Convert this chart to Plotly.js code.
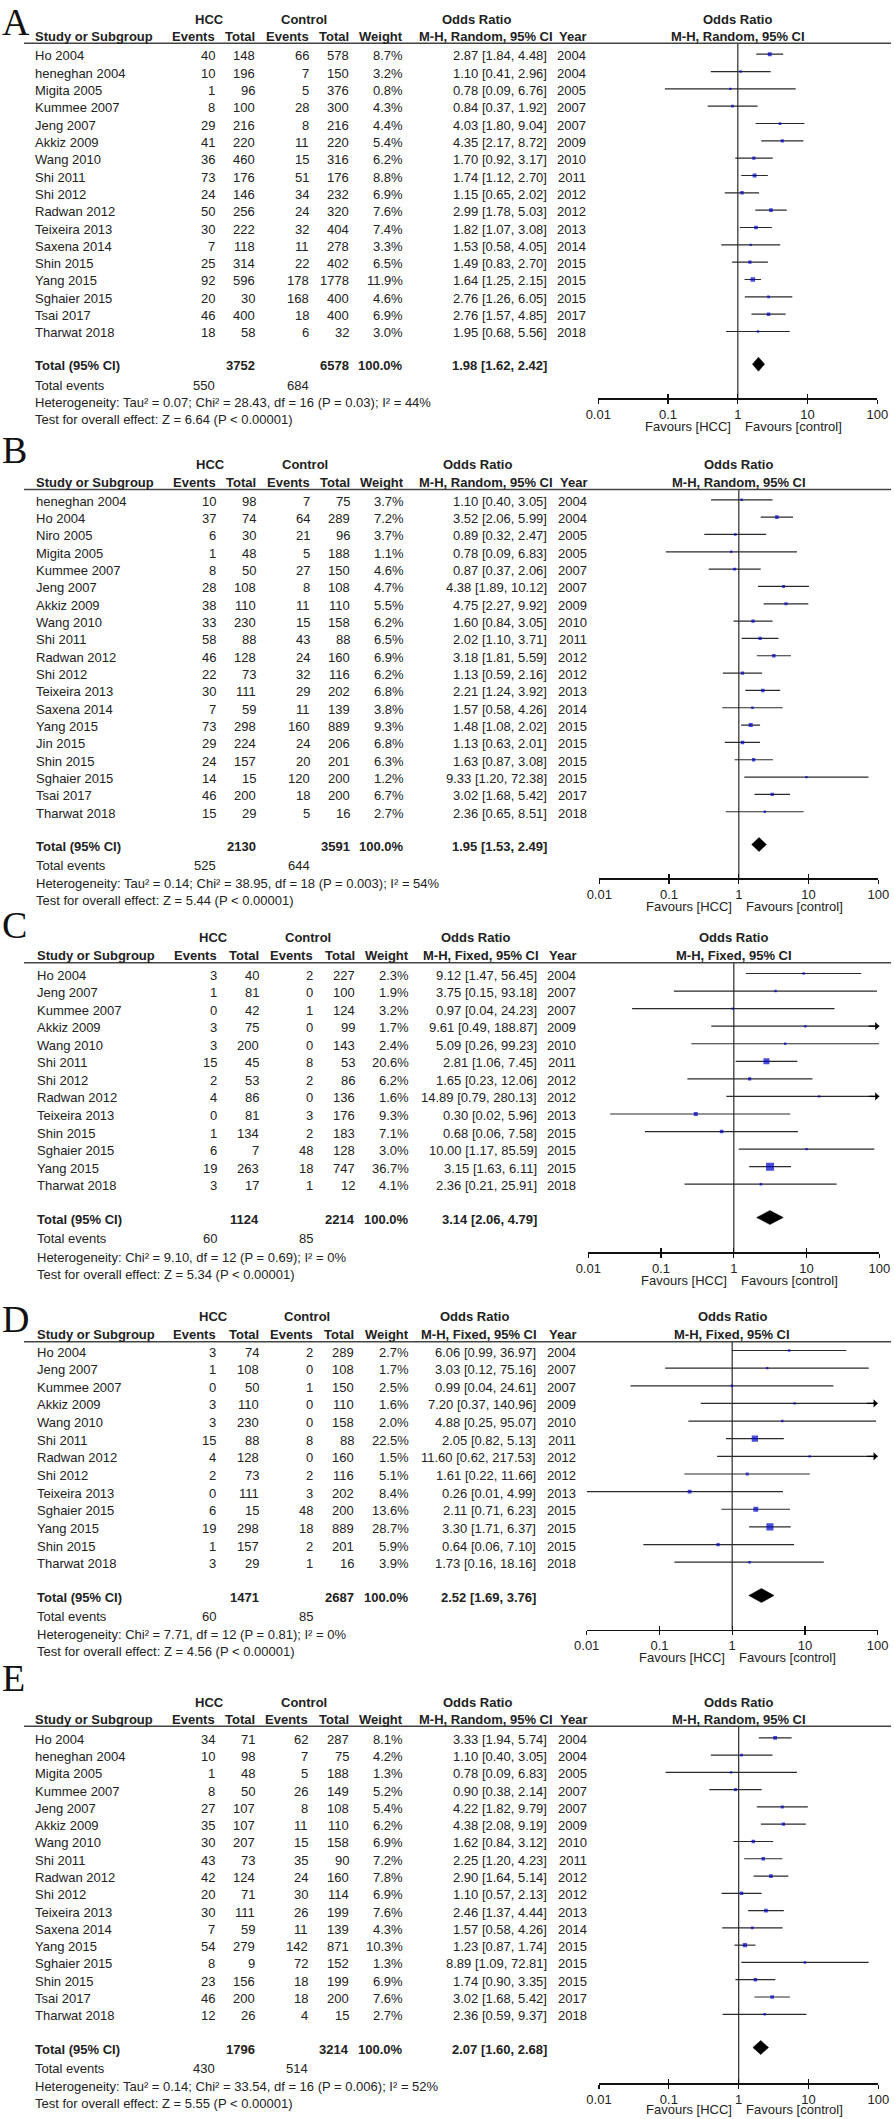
<!DOCTYPE html>
<html><head><meta charset="utf-8">
<script src="https://cdn.plot.ly/plotly-3.0.1.min.js"></script>
<style>html,body{margin:0;padding:0;background:#fff}#chart{width:894px;height:2119px}</style>
</head><body><div id="chart"></div>
<script>
// ================= DATA =================
const axisTickVals = [0.01, 0.1, 1, 10, 100];
const axisTickText = ["0.01", "0.1", "1", "10", "100"];
const nullValue = 1;
const favourLeft = "Favours [HCC]";
const favourRight = "Favours [control]";

// ---- Panel A ----
const studiesA = ["Ho 2004","heneghan 2004","Migita 2005","Kummee 2007","Jeng 2007","Akkiz 2009","Wang 2010","Shi 2011","Shi 2012","Radwan 2012","Teixeira 2013","Saxena 2014","Shin 2015","Yang 2015","Sghaier 2015","Tsai 2017","Tharwat 2018"];
const hccEventsA = [40,10,1,8,29,41,36,73,24,50,30,7,25,92,20,46,18];
const hccTotalA = [148,196,96,100,216,220,460,176,146,256,222,118,314,596,30,400,58];
const ctrlEventsA = [66,7,5,28,8,11,15,51,34,24,32,11,22,178,168,18,6];
const ctrlTotalA = [578,150,376,300,216,220,316,176,232,320,404,278,402,1778,400,400,32];
const weightA = [8.7,3.2,0.8,4.3,4.4,5.4,6.2,8.8,6.9,7.6,7.4,3.3,6.5,11.9,4.6,6.9,3.0];
const orA = [2.87,1.10,0.78,0.84,4.03,4.35,1.70,1.74,1.15,2.99,1.82,1.53,1.49,1.64,2.76,2.76,1.95];
const loA = [1.84,0.41,0.09,0.37,1.80,2.17,0.92,1.12,0.65,1.78,1.07,0.58,0.83,1.25,1.26,1.57,0.68];
const hiA = [4.48,2.96,6.76,1.92,9.04,8.72,3.17,2.70,2.02,5.03,3.08,4.05,2.70,2.15,6.05,4.85,5.56];
const yearA = [2004,2004,2005,2007,2007,2009,2010,2011,2012,2012,2013,2014,2015,2015,2015,2017,2018];
const totalA = {hccTotal:3752, ctrlTotal:6578, weight:"100.0%", or:1.98, lo:1.62, hi:2.42, hccEvents:550, ctrlEvents:684};
const hetA = "Heterogeneity: Tau² = 0.07; Chi² = 28.43, df = 16 (P = 0.03); I² = 44%";
const testA = "Test for overall effect: Z = 6.64 (P &lt; 0.00001)";
const methodA = "M-H, Random, 95% CI";

// ---- Panel B ----
const studiesB = ["heneghan 2004","Ho 2004","Niro 2005","Migita 2005","Kummee 2007","Jeng 2007","Akkiz 2009","Wang 2010","Shi 2011","Radwan 2012","Shi 2012","Teixeira 2013","Saxena 2014","Yang 2015","Jin 2015","Shin 2015","Sghaier 2015","Tsai 2017","Tharwat 2018"];
const hccEventsB = [10,37,6,1,8,28,38,33,58,46,22,30,7,73,29,24,14,46,15];
const hccTotalB = [98,74,30,48,50,108,110,230,88,128,73,111,59,298,224,157,15,200,29];
const ctrlEventsB = [7,64,21,5,27,8,11,15,43,24,32,29,11,160,24,20,120,18,5];
const ctrlTotalB = [75,289,96,188,150,108,110,158,88,160,116,202,139,889,206,201,200,200,16];
const weightB = [3.7,7.2,3.7,1.1,4.6,4.7,5.5,6.2,6.5,6.9,6.2,6.8,3.8,9.3,6.8,6.3,1.2,6.7,2.7];
const orB = [1.10,3.52,0.89,0.78,0.87,4.38,4.75,1.60,2.02,3.18,1.13,2.21,1.57,1.48,1.13,1.63,9.33,3.02,2.36];
const loB = [0.40,2.06,0.32,0.09,0.37,1.89,2.27,0.84,1.10,1.81,0.59,1.24,0.58,1.08,0.63,0.87,1.20,1.68,0.65];
const hiB = [3.05,5.99,2.47,6.83,2.06,10.12,9.92,3.05,3.71,5.59,2.16,3.92,4.26,2.02,2.01,3.08,72.38,5.42,8.51];
const yearB = [2004,2004,2005,2005,2007,2007,2009,2010,2011,2012,2012,2013,2014,2015,2015,2015,2015,2017,2018];
const totalB = {hccTotal:2130, ctrlTotal:3591, weight:"100.0%", or:1.95, lo:1.53, hi:2.49, hccEvents:525, ctrlEvents:644};
const hetB = "Heterogeneity: Tau² = 0.14; Chi² = 38.95, df = 18 (P = 0.003); I² = 54%";
const testB = "Test for overall effect: Z = 5.44 (P &lt; 0.00001)";
const methodB = "M-H, Random, 95% CI";

// ---- Panel C ----
const studiesC = ["Ho 2004","Jeng 2007","Kummee 2007","Akkiz 2009","Wang 2010","Shi 2011","Shi 2012","Radwan 2012","Teixeira 2013","Shin 2015","Sghaier 2015","Yang 2015","Tharwat 2018"];
const hccEventsC = [3,1,0,3,3,15,2,4,0,1,6,19,3];
const hccTotalC = [40,81,42,75,200,45,53,86,81,134,7,263,17];
const ctrlEventsC = [2,0,1,0,0,8,2,0,3,2,48,18,1];
const ctrlTotalC = [227,100,124,99,143,53,86,136,176,183,128,747,12];
const weightC = [2.3,1.9,3.2,1.7,2.4,20.6,6.2,1.6,9.3,7.1,3.0,36.7,4.1];
const orC = [9.12,3.75,0.97,9.61,5.09,2.81,1.65,14.89,0.30,0.68,10.00,3.15,2.36];
const loC = [1.47,0.15,0.04,0.49,0.26,1.06,0.23,0.79,0.02,0.06,1.17,1.63,0.21];
const hiC = [56.45,93.18,24.23,188.87,99.23,7.45,12.06,280.13,5.96,7.58,85.59,6.11,25.91];
const yearC = [2004,2007,2007,2009,2010,2011,2012,2012,2013,2015,2015,2015,2018];
const totalC = {hccTotal:1124, ctrlTotal:2214, weight:"100.0%", or:3.14, lo:2.06, hi:4.79, hccEvents:60, ctrlEvents:85};
const hetC = "Heterogeneity: Chi² = 9.10, df = 12 (P = 0.69); I² = 0%";
const testC = "Test for overall effect: Z = 5.34 (P &lt; 0.00001)";
const methodC = "M-H, Fixed, 95% CI";

// ---- Panel D ----
const studiesD = ["Ho 2004","Jeng 2007","Kummee 2007","Akkiz 2009","Wang 2010","Shi 2011","Radwan 2012","Shi 2012","Teixeira 2013","Sghaier 2015","Yang 2015","Shin 2015","Tharwat 2018"];
const hccEventsD = [3,1,0,3,3,15,4,2,0,6,19,1,3];
const hccTotalD = [74,108,50,110,230,88,128,73,111,15,298,157,29];
const ctrlEventsD = [2,0,1,0,0,8,0,2,3,48,18,2,1];
const ctrlTotalD = [289,108,150,110,158,88,160,116,202,200,889,201,16];
const weightD = [2.7,1.7,2.5,1.6,2.0,22.5,1.5,5.1,8.4,13.6,28.7,5.9,3.9];
const orD = [6.06,3.03,0.99,7.20,4.88,2.05,11.60,1.61,0.26,2.11,3.30,0.64,1.73];
const loD = [0.99,0.12,0.04,0.37,0.25,0.82,0.62,0.22,0.01,0.71,1.71,0.06,0.16];
const hiD = [36.97,75.16,24.61,140.96,95.07,5.13,217.53,11.66,4.99,6.23,6.37,7.10,18.16];
const yearD = [2004,2007,2007,2009,2010,2011,2012,2012,2013,2015,2015,2015,2018];
const totalD = {hccTotal:1471, ctrlTotal:2687, weight:"100.0%", or:2.52, lo:1.69, hi:3.76, hccEvents:60, ctrlEvents:85};
const hetD = "Heterogeneity: Chi² = 7.71, df = 12 (P = 0.81); I² = 0%";
const testD = "Test for overall effect: Z = 4.56 (P &lt; 0.00001)";
const methodD = "M-H, Fixed, 95% CI";

// ---- Panel E ----
const studiesE = ["Ho 2004","heneghan 2004","Migita 2005","Kummee 2007","Jeng 2007","Akkiz 2009","Wang 2010","Shi 2011","Radwan 2012","Shi 2012","Teixeira 2013","Saxena 2014","Yang 2015","Sghaier 2015","Shin 2015","Tsai 2017","Tharwat 2018"];
const hccEventsE = [34,10,1,8,27,35,30,43,42,20,30,7,54,8,23,46,12];
const hccTotalE = [71,98,48,50,107,107,207,73,124,71,111,59,279,9,156,200,26];
const ctrlEventsE = [62,7,5,26,8,11,15,35,24,30,26,11,142,72,18,18,4];
const ctrlTotalE = [287,75,188,149,108,110,158,90,160,114,199,139,871,152,199,200,15];
const weightE = [8.1,4.2,1.3,5.2,5.4,6.2,6.9,7.2,7.8,6.9,7.6,4.3,10.3,1.3,6.9,7.6,2.7];
const orE = [3.33,1.10,0.78,0.90,4.22,4.38,1.62,2.25,2.90,1.10,2.46,1.57,1.23,8.89,1.74,3.02,2.36];
const loE = [1.94,0.40,0.09,0.38,1.82,2.08,0.84,1.20,1.64,0.57,1.37,0.58,0.87,1.09,0.90,1.68,0.59];
const hiE = [5.74,3.05,6.83,2.14,9.79,9.19,3.12,4.23,5.14,2.13,4.44,4.26,1.74,72.81,3.35,5.42,9.37];
const yearE = [2004,2004,2005,2007,2007,2009,2010,2011,2012,2012,2013,2014,2015,2015,2015,2017,2018];
const totalE = {hccTotal:1796, ctrlTotal:3214, weight:"100.0%", or:2.07, lo:1.60, hi:2.68, hccEvents:430, ctrlEvents:514};
const hetE = "Heterogeneity: Tau² = 0.14; Chi² = 33.54, df = 16 (P = 0.006); I² = 52%";
const testE = "Test for overall effect: Z = 5.55 (P &lt; 0.00001)";
const methodE = "M-H, Random, 95% CI";

// ================= LAYOUT GEOMETRY (pixels) =================
const W = 894, H = 2119;
const geomA = {letter:22, h1:19, h2:36, line:43.3, row0:55.7, sp:17.33, total:365.7, events:385, het:402.7, test:419.3, axis:398.4, fav:426.2, xL:598.3, xR:877.3,
  study:34.4, ev1:215.5, tot1:256.4, ev2:310, tot2:350.2, w:404.1, ci:548, year:586.7, methodR:553.8, hcc:209.7, ctrl:304.2, orh:476.5};
const geomB = {letter:450, h1:464.3, h2:482, line:489.4, row0:501.3, sp:17.33, total:846, events:865.3, het:883.3, test:900.7, axis:878.2, fav:906.8, xL:599.3, xR:878.3,
  study:35.2, ev1:216.6, tot1:257, ev2:311, tot2:351.3, w:405, ci:548, year:588, methodR:554, hcc:210.5, ctrl:305, orh:477.6};
const geomC = {letter:925, h1:937.3, h2:955, line:962.7, row0:975, sp:17.56, total:1219, events:1238.7, het:1257, test:1274.7, axis:1252.3, fav:1280, xL:588.3, xR:879.3,
  study:35.6, ev1:218, tot1:260.2, ev2:314, tot2:355.9, w:410.3, ci:538, year:577.1, methodR:539.6, hcc:213.2, ctrl:308, orh:475.7};
const geomD = {letter:1319, h1:1316.7, h2:1334, line:1341.7, row0:1352, sp:17.64, total:1597, events:1616.7, het:1634.3, test:1651.7, axis:1629.5, fav:1657.5, xL:586.7, xR:877.7,
  study:35.6, ev1:217.4, tot1:259.5, ev2:313.8, tot2:355.1, w:409.5, ci:536.6, year:576.5, methodR:538, hcc:213, ctrl:307.3, orh:474.5};
const geomE = {letter:1678, h1:1702.3, h2:1719.3, line:1726.3, row0:1739.3, sp:17.28, total:2049, events:2068.3, het:2086, test:2103.3, axis:2083.3, fav:2109.6, xL:599, xR:878.3,
  study:34.4, ev1:215.5, tot1:256.4, ev2:309.2, tot2:350.2, w:404.1, ci:548, year:587.5, methodR:553.8, hcc:209.7, ctrl:304.2, orh:477.2};

const panels = [
  {letter:"A", studies:studiesA, hccE:hccEventsA, hccT:hccTotalA, ctrlE:ctrlEventsA, ctrlT:ctrlTotalA, w:weightA, or:orA, lo:loA, hi:hiA, year:yearA, total:totalA, het:hetA, test:testA, method:methodA, g:geomA},
  {letter:"B", studies:studiesB, hccE:hccEventsB, hccT:hccTotalB, ctrlE:ctrlEventsB, ctrlT:ctrlTotalB, w:weightB, or:orB, lo:loB, hi:hiB, year:yearB, total:totalB, het:hetB, test:testB, method:methodB, g:geomB},
  {letter:"C", studies:studiesC, hccE:hccEventsC, hccT:hccTotalC, ctrlE:ctrlEventsC, ctrlT:ctrlTotalC, w:weightC, or:orC, lo:loC, hi:hiC, year:yearC, total:totalC, het:hetC, test:testC, method:methodC, g:geomC},
  {letter:"D", studies:studiesD, hccE:hccEventsD, hccT:hccTotalD, ctrlE:ctrlEventsD, ctrlT:ctrlTotalD, w:weightD, or:orD, lo:loD, hi:hiD, year:yearD, total:totalD, het:hetD, test:testD, method:methodD, g:geomD},
  {letter:"E", studies:studiesE, hccE:hccEventsE, hccT:hccTotalE, ctrlE:ctrlEventsE, ctrlT:ctrlTotalE, w:weightE, or:orE, lo:loE, hi:hiE, year:yearE, total:totalE, het:hetE, test:testE, method:methodE, g:geomE}
];

// ================= BUILD =================
const FONT = "'Liberation Sans', Arial, Helvetica, sans-serif";
const TXT = "#222";
const MARK_OFF = 1.5;           // markers sit slightly above text centre
const xRangeLog = [-2, 2];
const xMax = Math.pow(10, xRangeLog[1]);
const fmt2 = v => v.toFixed(2);
const ciText = (o, l, h) => `${fmt2(o)} [${fmt2(l)}, ${fmt2(h)}]`;
const clamp = v => Math.max(0, Math.min(H, v));

const data = [], annotations = [], shapes = [];
const layout = {
  width: W, height: H, margin: {l:0, r:0, t:0, b:0},
  paper_bgcolor: "#fff", plot_bgcolor: "rgba(0,0,0,0)", showlegend: false,
  font: {family: FONT, size: 13, color: TXT}
};

panels.forEach((p, idx) => {
  const k = idx + 1;
  const xId = k === 1 ? "x" : "x" + k, yId = k === 1 ? "y" : "y" + k;
  const xKey = k === 1 ? "xaxis" : "xaxis" + k, yKey = k === 1 ? "yaxis" : "yaxis" + k;
  const oN = k + 5, oId = "x" + oN, oKey = "xaxis" + oN;
  const g = p.g;
  const mrow0 = g.row0 - MARK_OFF;
  const ry = px => (px - mrow0) / g.sp;
  const rows = p.studies.map((_, i) => i);
  const textRow = i => g.row0 + i * g.sp;
  const topPx = clamp(g.letter - 30), botPx = clamp(g.fav + 12);

  layout[xKey] = {
    type: "log", domain: [g.xL / W, g.xR / W], range: xRangeLog, anchor: "free", position: 1 - g.axis / H,
    tickmode: "array", tickvals: axisTickVals, ticktext: axisTickText,
    ticks: "outside", ticklen: 4, tickwidth: 1.3, tickcolor: "#111",
    showline: true, linecolor: "#111", linewidth: 1.3, showgrid: false, zeroline: false,
    tickfont: {family: FONT, size: 13, color: TXT}, fixedrange: true
  };
  layout[oKey] = {
    type: "log", range: xRangeLog, anchor: "free", position: 1 - g.axis / H, overlaying: xId,
    tickmode: "array", tickvals: axisTickVals, ticks: "inside", ticklen: 4, tickwidth: 1.3, tickcolor: "#111",
    showticklabels: false, showline: false, showgrid: false, zeroline: false, fixedrange: true
  };
  layout[yKey] = {
    domain: [1 - botPx / H, 1 - topPx / H], range: [ry(botPx), ry(topPx)],
    anchor: xId, visible: false, fixedrange: true
  };

  // dummy trace so overlay tick axis is drawn
  data.push({type: "scatter", x: [nullValue], y: [0], xaxis: oId, yaxis: yId, mode: "markers",
    marker: {opacity: 0}, hoverinfo: "skip", showlegend: false});

  // CI lines
  const cx = [], cy = [];
  rows.forEach(i => { cx.push(p.lo[i], p.hi[i], null); cy.push(i, i, null); });
  data.push({type: "scatter", x: cx, y: cy, xaxis: xId, yaxis: yId, mode: "lines",
    line: {color: "#2a2a2a", width: 1.2}, hoverinfo: "skip", showlegend: false});

  // weight squares
  data.push({type: "scatter", x: p.or, y: rows, xaxis: xId, yaxis: yId, mode: "markers",
    marker: {symbol: "square", color: "#0000cc", size: p.w.map(w => Math.max(2.4, 1.32 * Math.sqrt(w))), line: {width: 0}},
    hoverinfo: "skip", showlegend: false});

  // pooled diamond
  const rt = ry(g.total - MARK_OFF), hh = 7 / g.sp;
  const t = p.total;
  data.push({type: "scatter", x: [t.lo, t.or, t.hi, t.or, t.lo], y: [rt, rt - hh, rt, rt + hh, rt],
    xaxis: xId, yaxis: yId, mode: "lines", fill: "toself", fillcolor: "#000",
    line: {color: "#000", width: 0.5}, hoverinfo: "skip", showlegend: false});

  // arrows for CIs running off the scale
  rows.forEach(i => {
    if (p.hi[i] > xMax) {
      annotations.push({xref: xId, yref: yId, x: Math.log10(xMax), y: i, ax: -12, ay: 0, axref: "pixel", ayref: "pixel",
        text: "", showarrow: true, arrowhead: 1, arrowsize: 1.15, arrowwidth: 1.2, arrowcolor: "#000", standoff: 0});
    }
  });

  // null-effect line & header rule
  shapes.push({type: "line", xref: xId, yref: yId, x0: nullValue, x1: nullValue, y0: ry(g.line), y1: ry(g.axis),
    line: {color: "#3a3a3a", width: 1.3}, layer: "below"});
  shapes.push({type: "line", xref: "paper", yref: yId, x0: 24 / W, x1: 891 / W, y0: ry(g.line), y1: ry(g.line),
    line: {color: "#444", width: 1.5}});

  const txt = (text, xpx, ypx, anchor, extra) => annotations.push(Object.assign({
    xref: "paper", x: xpx / W, xanchor: anchor, yref: yId, y: ry(ypx), yanchor: "middle",
    text: String(text), showarrow: false, borderpad: 0, font: {family: FONT, size: 13, color: TXT}
  }, extra || {}));

  // panel letter
  txt(p.letter, 1, g.letter, "left", {font: {family: "'Liberation Serif', 'Times New Roman', serif", size: 38, color: "#111"}});

  // headers
  txt("<b>HCC</b>", g.hcc, g.h1, "center");
  txt("<b>Control</b>", g.ctrl, g.h1, "center");
  txt("<b>Odds Ratio</b>", g.orh, g.h1, "center");
  txt("<b>Study or Subgroup</b>", g.study, g.h2, "left");
  txt("<b>Events</b>", g.ev1, g.h2, "right");
  txt("<b>Total</b>", g.tot1, g.h2, "right");
  txt("<b>Events</b>", g.ev2, g.h2, "right");
  txt("<b>Total</b>", g.tot2, g.h2, "right");
  txt("<b>Weight</b>", g.w, g.h2, "right");
  txt("<b>" + p.method + "</b>", g.methodR, g.h2, "right");
  txt("<b>Year</b>", g.year, g.h2, "right");
  [["<b>Odds Ratio</b>", g.h1], ["<b>" + p.method + "</b>", g.h2]].forEach(([s, py]) =>
    annotations.push({xref: xId, x: Math.log10(nullValue), xanchor: "center", yref: yId, y: ry(py), yanchor: "middle",
      text: s, showarrow: false, borderpad: 0, font: {family: FONT, size: 13, color: TXT}}));

  // study rows
  rows.forEach(i => {
    const py = textRow(i);
    txt(p.studies[i], g.study, py, "left");
    txt(p.hccE[i], g.ev1, py, "right");
    txt(p.hccT[i], g.tot1, py, "right");
    txt(p.ctrlE[i], g.ev2, py, "right");
    txt(p.ctrlT[i], g.tot2, py, "right");
    txt(p.w[i].toFixed(1) + "%", g.w, py, "right");
    txt(ciText(p.or[i], p.lo[i], p.hi[i]), g.ci, py, "right");
    txt(p.year[i], g.year, py, "right");
  });

  // totals
  txt("<b>Total (95% CI)</b>", g.study, g.total, "left");
  txt("<b>" + t.hccTotal + "</b>", g.tot1, g.total, "right");
  txt("<b>" + t.ctrlTotal + "</b>", g.tot2, g.total, "right");
  txt("<b>" + t.weight + "</b>", g.w, g.total, "right");
  txt("<b>" + ciText(t.or, t.lo, t.hi) + "</b>", g.ci, g.total, "right");
  txt("Total events", g.study, g.events, "left");
  txt(t.hccEvents, g.ev1, g.events, "right");
  txt(t.ctrlEvents, g.ev2, g.events, "right");
  txt(p.het, g.study, g.het, "left");
  txt(p.test, g.study, g.test, "left");

  // favours labels
  annotations.push({xref: xId, x: Math.log10(nullValue), xanchor: "right", xshift: -6, yref: yId, y: ry(g.fav), yanchor: "middle",
    text: favourLeft, showarrow: false, borderpad: 0, font: {family: FONT, size: 13, color: TXT}});
  annotations.push({xref: xId, x: Math.log10(nullValue), xanchor: "left", xshift: 6, yref: yId, y: ry(g.fav), yanchor: "middle",
    text: favourRight, showarrow: false, borderpad: 0, font: {family: FONT, size: 13, color: TXT}});
});

layout.annotations = annotations;
layout.shapes = shapes;

Plotly.newPlot("chart", data, layout, {staticPlot: true, displayModeBar: false});
</script>
</body></html>
